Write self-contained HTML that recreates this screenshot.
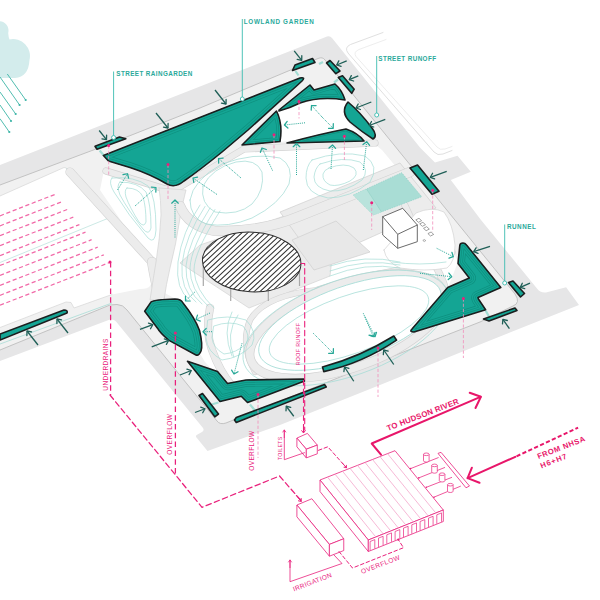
<!DOCTYPE html>
<html><head><meta charset="utf-8"><style>
html,body{margin:0;padding:0;background:#fff;}
svg{display:block;}
text{font-family:"Liberation Sans",sans-serif;}
</style></head><body>
<svg width="600" height="600" viewBox="0 0 600 600">
<path d="M-1,21.1 A9.5,9.5 0 0 1 8.2,33 Q8.5,37.5 9.5,39.4 A17,17 0 0 1 29.5,60 Q28.5,77 15,78 L-1,78 Z" fill="#d3ecec" stroke="none" stroke-width="1" stroke-linejoin="round" stroke-linecap="round" />
<line x1="7.3" y1="74" x2="25.7" y2="100" stroke="#3db5a7" stroke-width="0.9" />
<circle cx="25.7" cy="100" r="1.1" fill="#3db5a7"/>
<line x1="0" y1="77" x2="19.6" y2="105" stroke="#3db5a7" stroke-width="0.9" />
<circle cx="19.6" cy="105" r="1.1" fill="#3db5a7"/>
<line x1="0" y1="92" x2="15.7" y2="114" stroke="#3db5a7" stroke-width="0.9" />
<circle cx="15.7" cy="114" r="1.1" fill="#3db5a7"/>
<line x1="0" y1="105" x2="11" y2="121" stroke="#3db5a7" stroke-width="0.9" />
<circle cx="11" cy="121" r="1.1" fill="#3db5a7"/>
<line x1="0" y1="118.7" x2="9.3" y2="132" stroke="#3db5a7" stroke-width="0.9" />
<circle cx="9.3" cy="132" r="1.1" fill="#3db5a7"/>
<path d="M0,165 L327,36.5 Q330,35.5 332,38 L420,147.5 L435,162.5 L457.5,155.8 L470.8,171.7 L450.8,180 L481,220 L537,288.5 Q540,293 546,292.5 L566.1,287.2 L579,305 L480,344.4 L380,385 L280,425 L207.5,451 L196.5,437.5 Q195,435.5 197.5,434.5 L202,432 Q204.5,430.5 203,428 L116,321.5 Q114,319 110,319.5 L0,361 Z" fill="#e6e6e7" stroke="none" stroke-width="1" stroke-linejoin="round" stroke-linecap="round" />
<path d="M383,32.5 L350.5,44.5 Q344,47.5 348,53 L434,152 Q437.5,156 443,154 L452,150.5" fill="none" stroke="#e0e0e0" stroke-width="1.0" stroke-linejoin="round" stroke-linecap="round" />
<path d="M386,39.5 L359,49.5 Q353,52 356,56.5 L437,147 Q440,150.5 445,149 L452,146.5" fill="none" stroke="#ebebeb" stroke-width="0.9" stroke-linejoin="round" stroke-linecap="round" />
<path d="M0,185 L100,147.5 L200,108 L318,58.5 Q322.6,56.5 325,60 L515,294 Q521,303 513,306 L480,322 L360,369 L226,423 Q220,425 217,421 L127,310 Q123,304.5 117,304.5 L110,305 L0,350 Z" fill="#f1f1f1" stroke="none" stroke-width="1" stroke-linejoin="round" stroke-linecap="round" />
<path d="M0,185 L100,147.5 L200,108 L318,58.5 Q322.6,56.5 325,60 L515,294 Q521,303 513,306 L480,322 L360,369 L226,423 Q220,425 217,421 L127,310 Q123,304.5 117,304.5 L110,305 L0,350" fill="none" stroke="#bdbdbd" stroke-width="0.9" stroke-linejoin="round" stroke-linecap="round" />
<path d="M0,196 L64,167.5 Q67,166 69,168.5 L153,261 Q158,266 156,274 L150,286 Q148,289 140,289 L112,294.5 L74,308 L71,302.5 L66,302 L0,327.5 Z" fill="#ffffff" stroke="none" stroke-width="1" stroke-linejoin="round" stroke-linecap="round" />
<polyline points="0,327.5 66,302 71,302.5 74,308 112,294.5" fill="none" stroke="#d6d6d6" stroke-width="0.7" stroke-linejoin="round" stroke-linecap="round" />
<line x1="0" y1="344" x2="112" y2="303" stroke="#a8dcd5" stroke-width="0.8" />
<polyline points="66,168 110,217.5 0,262.5" fill="none" stroke="#bfe3de" stroke-width="0.8" stroke-linejoin="round" stroke-linecap="round" />
<polyline points="0,196 64,167.5 69,168.5 153,261" fill="none" stroke="#d5d5d5" stroke-width="0.7" stroke-linejoin="round" stroke-linecap="round" />
<line x1="0" y1="215.8" x2="55.0" y2="194.4" stroke="#f16aa8" stroke-width="1.25" stroke-dasharray="4.2 2.6"/>
<line x1="0" y1="225.8" x2="61.1" y2="202.0" stroke="#f16aa8" stroke-width="1.25" stroke-dasharray="4.2 2.6"/>
<line x1="0" y1="235.7" x2="67.2" y2="209.5" stroke="#f16aa8" stroke-width="1.25" stroke-dasharray="4.2 2.6"/>
<line x1="0" y1="245.6" x2="73.3" y2="217.1" stroke="#f16aa8" stroke-width="1.25" stroke-dasharray="4.2 2.6"/>
<line x1="0" y1="255.6" x2="79.4" y2="224.6" stroke="#f16aa8" stroke-width="1.25" stroke-dasharray="4.2 2.6"/>
<line x1="0" y1="265.5" x2="85.5" y2="232.2" stroke="#f16aa8" stroke-width="1.25" stroke-dasharray="4.2 2.6"/>
<line x1="0" y1="275.4" x2="91.6" y2="239.7" stroke="#f16aa8" stroke-width="1.25" stroke-dasharray="4.2 2.6"/>
<line x1="0" y1="285.4" x2="97.69999999999999" y2="247.2" stroke="#f16aa8" stroke-width="1.25" stroke-dasharray="4.2 2.6"/>
<line x1="0" y1="295.3" x2="103.8" y2="254.8" stroke="#f16aa8" stroke-width="1.25" stroke-dasharray="4.2 2.6"/>
<line x1="0" y1="305.2" x2="109.9" y2="262.4" stroke="#f16aa8" stroke-width="1.25" stroke-dasharray="4.2 2.6"/>
<path d="M104,170 L160,186 L176,190 L240,150 L292,146 L372,142 L382,150 L412,186 L440,222 L458,262 L447,290 L415,331 L396,340 L325,371 L302,380 L247,381 L227,385 L205,362 L199,352 L183,303 L163,292 L152,266 L100,190 Z" fill="#fff" stroke="none" stroke-width="1" stroke-linejoin="round" stroke-linecap="round" />
<polygon points="180,263 200,245 290,214 332,258 330,276 249,308" fill="#ececec" stroke="#d2d2d2" stroke-width="0.7" stroke-linejoin="round" />
<polygon points="280,212 400,163 436,208 316,262" fill="#ececec" stroke="#cfcfcf" stroke-width="0.7" stroke-linejoin="round" />
<polygon points="292,240 336,221 370,252 314,270" fill="#e8e8e8" stroke="#cfcfcf" stroke-width="0.7" stroke-linejoin="round" />
<path d="M106,171 L165,189 L178,188 L244,149 L375,143" fill="none" stroke="#d2d2d2" stroke-width="7.2" stroke-linecap="round" stroke-linejoin="round"/>
<path d="M106,171 L165,189 L178,188 L244,149 L375,143" fill="none" stroke="#ececec" stroke-width="6" stroke-linecap="round" stroke-linejoin="round"/>
<path d="M70,172 L152,262" fill="none" stroke="#d2d2d2" stroke-width="9.2" stroke-linecap="round" stroke-linejoin="round"/>
<path d="M70,172 L152,262" fill="none" stroke="#ececec" stroke-width="8" stroke-linecap="round" stroke-linejoin="round"/>
<path d="M152,262 Q156,285 160,300" fill="none" stroke="#d2d2d2" stroke-width="10.2" stroke-linecap="round" stroke-linejoin="round"/>
<path d="M152,262 Q156,285 160,300" fill="none" stroke="#ececec" stroke-width="9" stroke-linecap="round" stroke-linejoin="round"/>
<path d="M159,188 L186,190 Q182,205 180,218 Q176,245 170,268 Q166,285 164,300 L150,300 Q153,280 156,262 Q160,238 161,215 Q161,200 159,188 Z" fill="#ececec" stroke="#d2d2d2" stroke-width="0.7" stroke-linejoin="round" stroke-linecap="round" />
<path d="M180,206 Q188,226 215,231 Q262,232 300,216 L410,172" fill="none" stroke="#d2d2d2" stroke-width="10.2" stroke-linecap="round" stroke-linejoin="round"/>
<path d="M180,206 Q188,226 215,231 Q262,232 300,216 L410,172" fill="none" stroke="#ececec" stroke-width="9" stroke-linecap="round" stroke-linejoin="round"/>
<path d="M210,308 Q205,330 212,350 Q220,372 232,386" fill="none" stroke="#d2d2d2" stroke-width="8.2" stroke-linecap="round" stroke-linejoin="round"/>
<path d="M210,308 Q205,330 212,350 Q220,372 232,386" fill="none" stroke="#ececec" stroke-width="7" stroke-linecap="round" stroke-linejoin="round"/>
<path d="M318,290 Q355,278 400,270 Q430,262 452,252" fill="none" stroke="#d2d2d2" stroke-width="7.2" stroke-linecap="round" stroke-linejoin="round"/>
<path d="M318,290 Q355,278 400,270 Q430,262 452,252" fill="none" stroke="#ececec" stroke-width="6" stroke-linecap="round" stroke-linejoin="round"/>
<path d="M395,185 Q410,215 420,240 Q440,270 446,290" fill="none" stroke="#d2d2d2" stroke-width="7.2" stroke-linecap="round" stroke-linejoin="round"/>
<path d="M395,185 Q410,215 420,240 Q440,270 446,290" fill="none" stroke="#ececec" stroke-width="6" stroke-linecap="round" stroke-linejoin="round"/>
<path d="M255,372 Q240,345 250,320 Q265,295 318,290" fill="none" stroke="#d2d2d2" stroke-width="6.2" stroke-linecap="round" stroke-linejoin="round"/>
<path d="M255,372 Q240,345 250,320 Q265,295 318,290" fill="none" stroke="#ececec" stroke-width="5" stroke-linecap="round" stroke-linejoin="round"/>
<path d="M384,250 L416,213 Q432,206 444,212 Q453,224 455,245 Q455,262 447,268 Q425,272 400,268 Q386,262 384,250 Z" fill="#fff" stroke="#d2d2d2" stroke-width="0.7" stroke-linejoin="round" stroke-linecap="round" />
<path d="M392,262 Q420,266 446,262" fill="none" stroke="#a5dcd6" stroke-width="0.7" stroke-linejoin="round" stroke-linecap="round" />
<path d="M112,178 Q135,176 148,186 Q156,196 156,230 Q155,245 148,238 Q128,215 114,192 Q108,182 112,178 Z" fill="none" stroke="#a5dcd6" stroke-width="0.7" stroke-linejoin="round" stroke-linecap="round" />
<path d="M120,182 Q138,182 146,192 Q151,204 151,228 Q149,236 143,229 Q128,210 120,195 Q116,185 120,182 Z" fill="none" stroke="#a5dcd6" stroke-width="0.7" stroke-linejoin="round" stroke-linecap="round" />
<path d="M127,188 Q139,188 143,197 Q146,207 146,222 Q144,228 139,222 Q130,208 126,197 Q124,190 127,188 Z" fill="none" stroke="#a5dcd6" stroke-width="0.7" stroke-linejoin="round" stroke-linecap="round" />
<path d="M190,200 Q193,180 222,164 Q255,152 280,158 Q294,166 289,184 Q280,204 252,218 Q228,228 206,224 Q190,218 190,200 Z" fill="none" stroke="#a5dcd6" stroke-width="0.75" stroke-linejoin="round" stroke-linecap="round" />
<path d="M203,186 Q212,168 236,162 Q256,158 262,172 Q265,190 252,204 Q238,216 215,212 Q200,204 203,186 Z" fill="none" stroke="#a5dcd6" stroke-width="0.75" stroke-linejoin="round" stroke-linecap="round" />
<path d="M312,160 Q340,150 365,156 Q380,166 370,182 Q350,198 328,198 Q306,194 306,178 Q306,166 312,160 Z" fill="none" stroke="#a5dcd6" stroke-width="0.7" stroke-linejoin="round" stroke-linecap="round" />
<path d="M320,164 Q343,156 360,162 Q370,170 362,180 Q346,192 330,191 Q314,188 314,177 Q315,168 320,164 Z" fill="none" stroke="#a5dcd6" stroke-width="0.7" stroke-linejoin="round" stroke-linecap="round" />
<path d="M329,168 Q345,162 354,168 Q360,175 350,181 Q338,187 330,185 Q322,181 323,174 Q324,170 329,168 Z" fill="none" stroke="#a5dcd6" stroke-width="0.7" stroke-linejoin="round" stroke-linecap="round" />
<ellipse cx="347" cy="326" rx="102" ry="42" transform="rotate(-19.5 347 326)" fill="none" stroke="#d2d2d2" stroke-width="9"/>
<ellipse cx="347" cy="326" rx="102" ry="42" transform="rotate(-19.5 347 326)" fill="none" stroke="#ececec" stroke-width="7.6"/>
<ellipse cx="350" cy="323" rx="96" ry="37" transform="rotate(-19.5 350 323)" fill="#fff" stroke="#a5dcd6" stroke-width="0.8"/>
<ellipse cx="349" cy="325" rx="84" ry="29" transform="rotate(-19.5 349 325)" fill="none" stroke="#a5dcd6" stroke-width="0.7"/>
<ellipse cx="346" cy="328" rx="108" ry="48" transform="rotate(-19.5 346 328)" fill="none" stroke="#a5dcd6" stroke-width="0.7"/>
<path d="M208,320 Q228,314 246,320 Q258,332 252,345 Q240,358 222,360 Q207,352 206,338 Z" fill="none" stroke="#a5dcd6" stroke-width="0.7" stroke-linejoin="round" stroke-linecap="round" />
<path d="M214,326 Q230,320 243,326 Q251,335 246,344 Q236,353 224,354 Q213,348 212,338 Z" fill="none" stroke="#a5dcd6" stroke-width="0.7" stroke-linejoin="round" stroke-linecap="round" />
<path d="M200,205.0 Q182.0,232 178.0,262.0 Q175,290 190.0,300.0" fill="none" stroke="#a5dcd6" stroke-width="0.7" stroke-linejoin="round" stroke-linecap="round" />
<path d="M205,206.5 Q185.0,237 182.0,264.0 Q180,290 196.0,302.0" fill="none" stroke="#a5dcd6" stroke-width="0.7" stroke-linejoin="round" stroke-linecap="round" />
<path d="M210,208.0 Q188.0,242 186.0,266.0 Q185,290 202.0,304.0" fill="none" stroke="#a5dcd6" stroke-width="0.7" stroke-linejoin="round" stroke-linecap="round" />
<path d="M215,209.5 Q191.0,247 190.0,268.0 Q190,290 208.0,306.0" fill="none" stroke="#a5dcd6" stroke-width="0.7" stroke-linejoin="round" stroke-linecap="round" />
<path d="M220,211.0 Q194.0,252 194.0,270.0 Q195,290 214.0,308.0" fill="none" stroke="#a5dcd6" stroke-width="0.7" stroke-linejoin="round" stroke-linecap="round" />
<path d="M232,312.0 Q222.0,332.0 232.0,356.0" fill="none" stroke="#a5dcd6" stroke-width="0.7" stroke-linejoin="round" stroke-linecap="round" />
<path d="M238,315.0 Q225.0,333.8 233.8,357.2" fill="none" stroke="#a5dcd6" stroke-width="0.7" stroke-linejoin="round" stroke-linecap="round" />
<path d="M330,266 Q365,254.0 400,262.0" fill="none" stroke="#a5dcd6" stroke-width="0.7" stroke-linejoin="round" stroke-linecap="round" />
<path d="M330,271 Q365,258.0 400,265.0" fill="none" stroke="#a5dcd6" stroke-width="0.7" stroke-linejoin="round" stroke-linecap="round" />
<path d="M330,276 Q365,262.0 400,268.0" fill="none" stroke="#a5dcd6" stroke-width="0.7" stroke-linejoin="round" stroke-linecap="round" />
<clipPath id="elc"><ellipse cx="251.7" cy="262" rx="49.3" ry="29.8" transform="rotate(3 251.7 262)"/></clipPath>
<line x1="203.3" y1="262" x2="203.3" y2="286" stroke="#a8a8a8" stroke-width="1.2" />
<line x1="230.7" y1="288" x2="230.7" y2="301" stroke="#a8a8a8" stroke-width="1.2" />
<line x1="268.3" y1="289" x2="268.3" y2="301" stroke="#a8a8a8" stroke-width="1.2" />
<line x1="299.5" y1="266" x2="299.5" y2="286" stroke="#a8a8a8" stroke-width="1.2" />
<ellipse cx="251.7" cy="262" rx="49.3" ry="29.8" transform="rotate(3 251.7 262)" fill="#fff"/>
<path d="M146.1,252.0L248.5,156.5M148.8,254.9L251.2,159.4M151.5,257.7L253.9,162.3M154.2,260.6L256.5,165.1M156.9,263.5L259.2,168.0M159.5,266.4L261.9,170.9M162.2,269.3L264.6,173.8M164.9,272.2L267.3,176.7M167.6,275.1L270.0,179.6M170.3,278.0L272.7,182.5M173.0,280.9L275.4,185.4M175.7,283.7L278.1,188.3M178.4,286.6L280.8,191.1M181.1,289.5L283.5,194.0M183.8,292.4L286.2,196.9M186.5,295.3L288.9,199.8M189.2,298.2L291.6,202.7M191.9,301.1L294.3,205.6M194.6,304.0L297.0,208.5M197.3,306.9L299.7,211.4M200.0,309.7L302.3,214.3M202.6,312.6L305.0,217.1M205.3,315.5L307.7,220.0M208.0,318.4L310.4,222.9M210.7,321.3L313.1,225.8M213.4,324.2L315.8,228.7M216.1,327.1L318.5,231.6M218.8,330.0L321.2,234.5M221.5,332.9L323.9,237.4M224.2,335.7L326.6,240.3M226.9,338.6L329.3,243.1M229.6,341.5L332.0,246.0M232.3,344.4L334.7,248.9M235.0,347.3L337.4,251.8M237.7,350.2L340.1,254.7M240.4,353.1L342.8,257.6M243.1,356.0L345.4,260.5M245.8,358.9L348.1,263.4M248.4,361.7L350.8,266.3M251.1,364.6L353.5,269.1M253.8,367.5L356.2,272.0" stroke="#333" stroke-width="1.05" clip-path="url(#elc)" fill="none"/>
<ellipse cx="251.7" cy="262" rx="49.3" ry="29.8" transform="rotate(3 251.7 262)" fill="none" stroke="#2d2d2d" stroke-width="1"/>
<line x1="211.5" y1="404.5" x2="218.5" y2="402.5" stroke="#a3ddd4" stroke-width="2.2" />
<line x1="250" y1="404.5" x2="255" y2="410.5" stroke="#a3ddd4" stroke-width="2.2" />
<line x1="485.6" y1="310.5" x2="489" y2="316.5" stroke="#a3ddd4" stroke-width="2.2" />
<line x1="99.7" y1="150.5" x2="103.8" y2="155.5" stroke="#a3ddd4" stroke-width="2.2" />
<line x1="295.5" y1="71" x2="298.5" y2="75.5" stroke="#a3ddd4" stroke-width="2.2" />
<line x1="338" y1="79.5" x2="334" y2="82.5" stroke="#a3ddd4" stroke-width="2.2" />
<line x1="319" y1="64" x2="323" y2="62" stroke="#a3ddd4" stroke-width="2.2" />
<path d="M276,110 Q300,103 318,100 Q336,97 349,100 Q342,112 350,124 Q358,131 364,140 Q345,128 320,134 Q300,140 280,142 Q284,124 276,110 Z" fill="#fff" stroke="none" stroke-width="1" stroke-linejoin="round" stroke-linecap="round" />
<clipPath id="g1"><path d="M103.4,155.5 L300,78 Q306,77 302,81 L248,130 L222,152 Q200,170 184,181 Q175,188.5 167,184 Q150,174 130,167.5 Q115,163 108.5,161 Z"/></clipPath>
<path d="M103.4,155.5 L300,78 Q306,77 302,81 L248,130 L222,152 Q200,170 184,181 Q175,188.5 167,184 Q150,174 130,167.5 Q115,163 108.5,161 Z" fill="#14a594"/>
<g clip-path="url(#g1)" fill="none" stroke-linejoin="round">
<path d="M103.4,155.5 L300,78 Q306,77 302,81 L248,130 L222,152 Q200,170 184,181 Q175,188.5 167,184 Q150,174 130,167.5 Q115,163 108.5,161 Z" stroke="#0e907f" stroke-width="10.299999999999999"/>
<path d="M103.4,155.5 L300,78 Q306,77 302,81 L248,130 L222,152 Q200,170 184,181 Q175,188.5 167,184 Q150,174 130,167.5 Q115,163 108.5,161 Z" stroke="#14a594" stroke-width="8.9"/>
<path d="M103.4,155.5 L300,78 Q306,77 302,81 L248,130 L222,152 Q200,170 184,181 Q175,188.5 167,184 Q150,174 130,167.5 Q115,163 108.5,161 Z" stroke="#0e907f" stroke-width="5.9"/>
<path d="M103.4,155.5 L300,78 Q306,77 302,81 L248,130 L222,152 Q200,170 184,181 Q175,188.5 167,184 Q150,174 130,167.5 Q115,163 108.5,161 Z" stroke="#14a594" stroke-width="4.5"/>
</g>
<path d="M103.4,155.5 L300,78 Q306,77 302,81 L248,130 L222,152 Q200,170 184,181 Q175,188.5 167,184 Q150,174 130,167.5 Q115,163 108.5,161 Z" fill="none" stroke="#1b1f1f" stroke-width="1.6" stroke-linejoin="round"/>
<path d="M95,146.3 L119.5,137 L125.8,138.8 L97,149.3 Z" fill="#14a594" stroke="#1b1f1f" stroke-width="1.6" stroke-linejoin="round"/>
<path d="M292.5,70.5 L295,65 L312.5,58.5 L315,62.5 Z" fill="#14a594" stroke="#1b1f1f" stroke-width="1.6" stroke-linejoin="round"/>
<path d="M326.5,63 L330,60.5 L340,71 L335.8,73.7 Z" fill="#14a594" stroke="#1b1f1f" stroke-width="1.6" stroke-linejoin="round"/>
<path d="M338.3,77.5 L342.5,75.8 L354.2,89.2 L351.7,93.3 Z" fill="#14a594" stroke="#1b1f1f" stroke-width="1.6" stroke-linejoin="round"/>
<clipPath id="g6"><path d="M279,110 L310,85 L314,90 L335,84 Q342,90 345,100 Q320,96 300,103 Q290,108 279,111 Z"/></clipPath>
<path d="M279,110 L310,85 L314,90 L335,84 Q342,90 345,100 Q320,96 300,103 Q290,108 279,111 Z" fill="#14a594"/>
<g clip-path="url(#g6)" fill="none" stroke-linejoin="round">
<path d="M279,110 L310,85 L314,90 L335,84 Q342,90 345,100 Q320,96 300,103 Q290,108 279,111 Z" stroke="#0e907f" stroke-width="9.1"/>
<path d="M279,110 L310,85 L314,90 L335,84 Q342,90 345,100 Q320,96 300,103 Q290,108 279,111 Z" stroke="#14a594" stroke-width="7.7"/>
<path d="M279,110 L310,85 L314,90 L335,84 Q342,90 345,100 Q320,96 300,103 Q290,108 279,111 Z" stroke="#0e907f" stroke-width="5.1000000000000005"/>
<path d="M279,110 L310,85 L314,90 L335,84 Q342,90 345,100 Q320,96 300,103 Q290,108 279,111 Z" stroke="#14a594" stroke-width="3.7"/>
</g>
<path d="M279,110 L310,85 L314,90 L335,84 Q342,90 345,100 Q320,96 300,103 Q290,108 279,111 Z" fill="none" stroke="#1b1f1f" stroke-width="1.6" stroke-linejoin="round"/>
<clipPath id="g7"><path d="M242,145 L276.5,111 Q283,124 280,141.5 Z"/></clipPath>
<path d="M242,145 L276.5,111 Q283,124 280,141.5 Z" fill="#14a594"/>
<g clip-path="url(#g7)" fill="none" stroke-linejoin="round">
<path d="M242,145 L276.5,111 Q283,124 280,141.5 Z" stroke="#0e907f" stroke-width="9.1"/>
<path d="M242,145 L276.5,111 Q283,124 280,141.5 Z" stroke="#14a594" stroke-width="7.7"/>
<path d="M242,145 L276.5,111 Q283,124 280,141.5 Z" stroke="#0e907f" stroke-width="5.1000000000000005"/>
<path d="M242,145 L276.5,111 Q283,124 280,141.5 Z" stroke="#14a594" stroke-width="3.7"/>
</g>
<path d="M242,145 L276.5,111 Q283,124 280,141.5 Z" fill="none" stroke="#1b1f1f" stroke-width="1.6" stroke-linejoin="round"/>
<clipPath id="g8"><path d="M287,143 Q320,134 346,129 Q358,133 364,141 Z"/></clipPath>
<path d="M287,143 Q320,134 346,129 Q358,133 364,141 Z" fill="#14a594"/>
<g clip-path="url(#g8)" fill="none" stroke-linejoin="round">
<path d="M287,143 Q320,134 346,129 Q358,133 364,141 Z" stroke="#0e907f" stroke-width="4.7"/>
<path d="M287,143 Q320,134 346,129 Q358,133 364,141 Z" stroke="#14a594" stroke-width="3.3"/>
</g>
<path d="M287,143 Q320,134 346,129 Q358,133 364,141 Z" fill="none" stroke="#1b1f1f" stroke-width="1.6" stroke-linejoin="round"/>
<path d="M348,102 Q340,112 350,122 Q362,132 373,139 Q378,136 372,128 Q360,112 348,102 Z" fill="#14a594" stroke="#1b1f1f" stroke-width="1.6" stroke-linejoin="round"/>
<path d="M410,168 L417.5,165 L439,191.3 L432,194.3 Z" fill="#14a594" stroke="#1b1f1f" stroke-width="1.6" stroke-linejoin="round"/>
<clipPath id="g11"><path d="M459.8,245.5 Q460,243 463,243 Q465,243 466.5,245 L500.8,287.4 L478,297.6 L478.4,299 L485.6,309.7 L414,332 Q409,332 412,329 L447.7,287.4 L469.3,278.1 L458,263.5 Z"/></clipPath>
<path d="M459.8,245.5 Q460,243 463,243 Q465,243 466.5,245 L500.8,287.4 L478,297.6 L478.4,299 L485.6,309.7 L414,332 Q409,332 412,329 L447.7,287.4 L469.3,278.1 L458,263.5 Z" fill="#14a594"/>
<g clip-path="url(#g11)" fill="none" stroke-linejoin="round">
<path d="M459.8,245.5 Q460,243 463,243 Q465,243 466.5,245 L500.8,287.4 L478,297.6 L478.4,299 L485.6,309.7 L414,332 Q409,332 412,329 L447.7,287.4 L469.3,278.1 L458,263.5 Z" stroke="#0e907f" stroke-width="13.5"/>
<path d="M459.8,245.5 Q460,243 463,243 Q465,243 466.5,245 L500.8,287.4 L478,297.6 L478.4,299 L485.6,309.7 L414,332 Q409,332 412,329 L447.7,287.4 L469.3,278.1 L458,263.5 Z" stroke="#14a594" stroke-width="12.100000000000001"/>
<path d="M459.8,245.5 Q460,243 463,243 Q465,243 466.5,245 L500.8,287.4 L478,297.6 L478.4,299 L485.6,309.7 L414,332 Q409,332 412,329 L447.7,287.4 L469.3,278.1 L458,263.5 Z" stroke="#0e907f" stroke-width="9.5"/>
<path d="M459.8,245.5 Q460,243 463,243 Q465,243 466.5,245 L500.8,287.4 L478,297.6 L478.4,299 L485.6,309.7 L414,332 Q409,332 412,329 L447.7,287.4 L469.3,278.1 L458,263.5 Z" stroke="#14a594" stroke-width="8.100000000000001"/>
<path d="M459.8,245.5 Q460,243 463,243 Q465,243 466.5,245 L500.8,287.4 L478,297.6 L478.4,299 L485.6,309.7 L414,332 Q409,332 412,329 L447.7,287.4 L469.3,278.1 L458,263.5 Z" stroke="#0e907f" stroke-width="5.5"/>
<path d="M459.8,245.5 Q460,243 463,243 Q465,243 466.5,245 L500.8,287.4 L478,297.6 L478.4,299 L485.6,309.7 L414,332 Q409,332 412,329 L447.7,287.4 L469.3,278.1 L458,263.5 Z" stroke="#14a594" stroke-width="4.1"/>
</g>
<path d="M459.8,245.5 Q460,243 463,243 Q465,243 466.5,245 L500.8,287.4 L478,297.6 L478.4,299 L485.6,309.7 L414,332 Q409,332 412,329 L447.7,287.4 L469.3,278.1 L458,263.5 Z" fill="none" stroke="#1b1f1f" stroke-width="1.6" stroke-linejoin="round"/>
<path d="M508.5,282.5 L513,281 L524.5,293.5 L520.5,297 Z" fill="#14a594" stroke="#1b1f1f" stroke-width="1.6" stroke-linejoin="round"/>
<path d="M483.5,319 L515,308 L517,310.5 L489,321 Z" fill="#14a594" stroke="#1b1f1f" stroke-width="1.6" stroke-linejoin="round"/>
<clipPath id="g14"><path d="M144.7,311.3 L151.1,301.9 Q155,299.5 175,299 Q181,299 183,303 Q195,318 199.5,330.5 Q203,345 201,351 Q199,356 196,355 L169,340.4 Q160,333 157.5,328.2 Z"/></clipPath>
<path d="M144.7,311.3 L151.1,301.9 Q155,299.5 175,299 Q181,299 183,303 Q195,318 199.5,330.5 Q203,345 201,351 Q199,356 196,355 L169,340.4 Q160,333 157.5,328.2 Z" fill="#14a594"/>
<g clip-path="url(#g14)" fill="none" stroke-linejoin="round">
<path d="M144.7,311.3 L151.1,301.9 Q155,299.5 175,299 Q181,299 183,303 Q195,318 199.5,330.5 Q203,345 201,351 Q199,356 196,355 L169,340.4 Q160,333 157.5,328.2 Z" stroke="#0e907f" stroke-width="14.299999999999999"/>
<path d="M144.7,311.3 L151.1,301.9 Q155,299.5 175,299 Q181,299 183,303 Q195,318 199.5,330.5 Q203,345 201,351 Q199,356 196,355 L169,340.4 Q160,333 157.5,328.2 Z" stroke="#14a594" stroke-width="12.9"/>
<path d="M144.7,311.3 L151.1,301.9 Q155,299.5 175,299 Q181,299 183,303 Q195,318 199.5,330.5 Q203,345 201,351 Q199,356 196,355 L169,340.4 Q160,333 157.5,328.2 Z" stroke="#0e907f" stroke-width="9.899999999999999"/>
<path d="M144.7,311.3 L151.1,301.9 Q155,299.5 175,299 Q181,299 183,303 Q195,318 199.5,330.5 Q203,345 201,351 Q199,356 196,355 L169,340.4 Q160,333 157.5,328.2 Z" stroke="#14a594" stroke-width="8.5"/>
<path d="M144.7,311.3 L151.1,301.9 Q155,299.5 175,299 Q181,299 183,303 Q195,318 199.5,330.5 Q203,345 201,351 Q199,356 196,355 L169,340.4 Q160,333 157.5,328.2 Z" stroke="#0e907f" stroke-width="5.5"/>
<path d="M144.7,311.3 L151.1,301.9 Q155,299.5 175,299 Q181,299 183,303 Q195,318 199.5,330.5 Q203,345 201,351 Q199,356 196,355 L169,340.4 Q160,333 157.5,328.2 Z" stroke="#14a594" stroke-width="4.1"/>
</g>
<path d="M144.7,311.3 L151.1,301.9 Q155,299.5 175,299 Q181,299 183,303 Q195,318 199.5,330.5 Q203,345 201,351 Q199,356 196,355 L169,340.4 Q160,333 157.5,328.2 Z" fill="none" stroke="#1b1f1f" stroke-width="1.6" stroke-linejoin="round"/>
<clipPath id="g15"><path d="M187.5,361.25 L217.5,371.5 L227.5,383.5 L246,380 L303.75,379 L304.5,381 L247.5,402.5 L241.25,396.25 L220,401.5 Z"/></clipPath>
<path d="M187.5,361.25 L217.5,371.5 L227.5,383.5 L246,380 L303.75,379 L304.5,381 L247.5,402.5 L241.25,396.25 L220,401.5 Z" fill="#14a594"/>
<g clip-path="url(#g15)" fill="none" stroke-linejoin="round">
<path d="M187.5,361.25 L217.5,371.5 L227.5,383.5 L246,380 L303.75,379 L304.5,381 L247.5,402.5 L241.25,396.25 L220,401.5 Z" stroke="#0e907f" stroke-width="13.5"/>
<path d="M187.5,361.25 L217.5,371.5 L227.5,383.5 L246,380 L303.75,379 L304.5,381 L247.5,402.5 L241.25,396.25 L220,401.5 Z" stroke="#14a594" stroke-width="12.100000000000001"/>
<path d="M187.5,361.25 L217.5,371.5 L227.5,383.5 L246,380 L303.75,379 L304.5,381 L247.5,402.5 L241.25,396.25 L220,401.5 Z" stroke="#0e907f" stroke-width="9.5"/>
<path d="M187.5,361.25 L217.5,371.5 L227.5,383.5 L246,380 L303.75,379 L304.5,381 L247.5,402.5 L241.25,396.25 L220,401.5 Z" stroke="#14a594" stroke-width="8.100000000000001"/>
<path d="M187.5,361.25 L217.5,371.5 L227.5,383.5 L246,380 L303.75,379 L304.5,381 L247.5,402.5 L241.25,396.25 L220,401.5 Z" stroke="#0e907f" stroke-width="5.5"/>
<path d="M187.5,361.25 L217.5,371.5 L227.5,383.5 L246,380 L303.75,379 L304.5,381 L247.5,402.5 L241.25,396.25 L220,401.5 Z" stroke="#14a594" stroke-width="4.1"/>
</g>
<path d="M187.5,361.25 L217.5,371.5 L227.5,383.5 L246,380 L303.75,379 L304.5,381 L247.5,402.5 L241.25,396.25 L220,401.5 Z" fill="none" stroke="#1b1f1f" stroke-width="1.6" stroke-linejoin="round"/>
<path d="M199,395.5 L202.5,393.5 L218.5,414 L214.8,416.8 Z" fill="#14a594" stroke="#1b1f1f" stroke-width="1.6" stroke-linejoin="round"/>
<path d="M234.5,420 L236.25,417.5 L324.5,384.5 L326.25,387 L236.25,422.5 Z" fill="#14a594" stroke="#1b1f1f" stroke-width="1.6" stroke-linejoin="round"/>
<path d="M322.5,367 Q360,357 393.8,336 L396.6,340.2 Q362,363.5 323.8,371.6 Z" fill="#14a594" stroke="#1b1f1f" stroke-width="1.6" stroke-linejoin="round"/>
<path d="M0,334 L64,310 Q68,310 67,313 L0,340 Z" fill="#14a594" stroke="#1b1f1f" stroke-width="1.6" stroke-linejoin="round"/>
<polygon points="353.3,195 401.7,172.7 421.7,196.7 373.3,215" fill="#a9ddd5" stroke="#86cdc2" stroke-width="0.6" stroke-linejoin="round" stroke-dasharray="1.5 1"/>
<polygon points="353.3,195 366.5,189 381.5,212 373.3,215" fill="#b9e3dc" stroke="none" stroke-width="0" stroke-linejoin="round" />
<line x1="366.5" y1="189" x2="381.5" y2="212" stroke="#8fd0c5" stroke-width="0.6" />
<polygon points="382.7,216.7 402.7,208.3 417.3,225 417.3,241.7 397.7,248.3 382.7,235" fill="#fff" stroke="#5a5a5a" stroke-width="0.9" stroke-linejoin="round" />
<polyline points="382.7,216.7 397.7,234.3 417.3,225" fill="none" stroke="#5a5a5a" stroke-width="0.9" stroke-linejoin="round" stroke-linecap="round" />
<line x1="397.7" y1="234.3" x2="397.7" y2="248.3" stroke="#5a5a5a" stroke-width="0.9" />
<polygon points="415.8,219.89999999999998 419.0,218.29999999999998 421.59999999999997,220.7 418.4,222.29999999999998" fill="#fff" stroke="#6f6f6f" stroke-width="0.65" stroke-linejoin="round" />
<polygon points="419.70000000000005,223.89999999999998 422.90000000000003,222.29999999999998 425.5,224.7 422.3,226.29999999999998" fill="#fff" stroke="#6f6f6f" stroke-width="0.65" stroke-linejoin="round" />
<polygon points="423.5,228.29999999999998 426.7,226.7 429.29999999999995,229.1 426.09999999999997,230.7" fill="#fff" stroke="#6f6f6f" stroke-width="0.65" stroke-linejoin="round" />
<polygon points="427.90000000000003,233.6 431.1,232.0 433.7,234.4 430.5,236.0" fill="#fff" stroke="#6f6f6f" stroke-width="0.65" stroke-linejoin="round" />
<polygon points="422.8,240.4 424.4,239.5 425.8,240.6 424.2,241.5" fill="#fff" stroke="#6f6f6f" stroke-width="0.55" stroke-linejoin="round" />
<line x1="99.2" y1="130.5" x2="106.5" y2="139.7" stroke="#1f5f57" stroke-width="1.3" />
<polyline points="106.6,135.1 106.5,139.7 102.0,138.8" fill="none" stroke="#1f5f57" stroke-width="1.3" stroke-linecap="round" stroke-linejoin="round"/>
<line x1="156" y1="113" x2="168" y2="128" stroke="#1f5f57" stroke-width="1.3" />
<polyline points="168.1,123.4 168,128 163.5,127.1" fill="none" stroke="#1f5f57" stroke-width="1.3" stroke-linecap="round" stroke-linejoin="round"/>
<line x1="215" y1="90" x2="226" y2="104" stroke="#1f5f57" stroke-width="1.3" />
<polyline points="226.1,99.4 226,104 221.5,103.1" fill="none" stroke="#1f5f57" stroke-width="1.3" stroke-linecap="round" stroke-linejoin="round"/>
<line x1="294.2" y1="50.8" x2="301.7" y2="60.3" stroke="#1f5f57" stroke-width="1.3" />
<polyline points="301.8,55.7 301.7,60.3 297.2,59.4" fill="none" stroke="#1f5f57" stroke-width="1.3" stroke-linecap="round" stroke-linejoin="round"/>
<line x1="346.7" y1="60.8" x2="336.7" y2="65" stroke="#1f5f57" stroke-width="1.3" />
<polyline points="341.1,66.4 336.7,65 338.8,60.9" fill="none" stroke="#1f5f57" stroke-width="1.3" stroke-linecap="round" stroke-linejoin="round"/>
<line x1="358.3" y1="75.8" x2="349.2" y2="79.7" stroke="#1f5f57" stroke-width="1.3" />
<polyline points="353.6,81.0 349.2,79.7 351.3,75.6" fill="none" stroke="#1f5f57" stroke-width="1.3" stroke-linecap="round" stroke-linejoin="round"/>
<line x1="371.3" y1="102" x2="356" y2="108" stroke="#1f5f57" stroke-width="1.3" />
<polyline points="360.4,109.5 356,108 358.2,104.0" fill="none" stroke="#1f5f57" stroke-width="1.3" stroke-linecap="round" stroke-linejoin="round"/>
<line x1="385.3" y1="119.3" x2="369.3" y2="125.5" stroke="#1f5f57" stroke-width="1.3" />
<polyline points="373.7,127.0 369.3,125.5 371.5,121.5" fill="none" stroke="#1f5f57" stroke-width="1.3" stroke-linecap="round" stroke-linejoin="round"/>
<line x1="446.7" y1="171.3" x2="430.3" y2="177.3" stroke="#1f5f57" stroke-width="1.3" />
<polyline points="434.6,178.9 430.3,177.3 432.6,173.3" fill="none" stroke="#1f5f57" stroke-width="1.3" stroke-linecap="round" stroke-linejoin="round"/>
<line x1="490" y1="246.3" x2="473.7" y2="251.7" stroke="#1f5f57" stroke-width="1.3" />
<polyline points="478.0,253.4 473.7,251.7 476.1,247.8" fill="none" stroke="#1f5f57" stroke-width="1.3" stroke-linecap="round" stroke-linejoin="round"/>
<line x1="530" y1="283.1" x2="520.3" y2="287.4" stroke="#1f5f57" stroke-width="1.3" />
<polyline points="524.7,288.7 520.3,287.4 522.3,283.3" fill="none" stroke="#1f5f57" stroke-width="1.3" stroke-linecap="round" stroke-linejoin="round"/>
<line x1="509.4" y1="328.6" x2="502.9" y2="319.3" stroke="#1f5f57" stroke-width="1.3" />
<polyline points="502.5,323.9 502.9,319.3 507.3,320.5" fill="none" stroke="#1f5f57" stroke-width="1.3" stroke-linecap="round" stroke-linejoin="round"/>
<line x1="393.75" y1="364.5" x2="383.75" y2="350" stroke="#1f5f57" stroke-width="1.3" />
<polyline points="383.3,354.6 383.75,350 388.2,351.2" fill="none" stroke="#1f5f57" stroke-width="1.3" stroke-linecap="round" stroke-linejoin="round"/>
<line x1="353.75" y1="381.25" x2="344.5" y2="367" stroke="#1f5f57" stroke-width="1.3" />
<polyline points="343.9,371.6 344.5,367 348.9,368.3" fill="none" stroke="#1f5f57" stroke-width="1.3" stroke-linecap="round" stroke-linejoin="round"/>
<line x1="38" y1="345" x2="27" y2="331" stroke="#1f5f57" stroke-width="1.3" />
<polyline points="26.9,335.6 27,331 31.5,331.9" fill="none" stroke="#1f5f57" stroke-width="1.3" stroke-linecap="round" stroke-linejoin="round"/>
<line x1="68" y1="333" x2="57" y2="319" stroke="#1f5f57" stroke-width="1.3" />
<polyline points="56.9,323.6 57,319 61.5,319.9" fill="none" stroke="#1f5f57" stroke-width="1.3" stroke-linecap="round" stroke-linejoin="round"/>
<line x1="140" y1="329.3" x2="152.8" y2="324.7" stroke="#1f5f57" stroke-width="1.3" />
<polyline points="148.5,323.1 152.8,324.7 150.5,328.7" fill="none" stroke="#1f5f57" stroke-width="1.3" stroke-linecap="round" stroke-linejoin="round"/>
<line x1="151.7" y1="346.8" x2="168.6" y2="340.4" stroke="#1f5f57" stroke-width="1.3" />
<polyline points="164.3,338.9 168.6,340.4 166.4,344.4" fill="none" stroke="#1f5f57" stroke-width="1.3" stroke-linecap="round" stroke-linejoin="round"/>
<line x1="180" y1="375" x2="191.25" y2="370.5" stroke="#1f5f57" stroke-width="1.3" />
<polyline points="186.9,369.1 191.25,370.5 189.1,374.6" fill="none" stroke="#1f5f57" stroke-width="1.3" stroke-linecap="round" stroke-linejoin="round"/>
<line x1="195" y1="412.5" x2="205" y2="408.75" stroke="#1f5f57" stroke-width="1.3" />
<polyline points="200.7,407.2 205,408.75 202.7,412.8" fill="none" stroke="#1f5f57" stroke-width="1.3" stroke-linecap="round" stroke-linejoin="round"/>
<line x1="293.75" y1="416.25" x2="286.25" y2="406.25" stroke="#1f5f57" stroke-width="1.3" />
<polyline points="286.0,410.8 286.25,406.25 290.7,407.3" fill="none" stroke="#1f5f57" stroke-width="1.3" stroke-linecap="round" stroke-linejoin="round"/>
<line x1="241" y1="178" x2="218.5" y2="158.5" stroke="#26a897" stroke-width="1.0" stroke-dasharray="1 1.1"/>
<polyline points="218.7,163.1 218.5,158.5 223.1,158.1" fill="none" stroke="#26a897" stroke-width="1.25" stroke-linecap="round" stroke-linejoin="round"/>
<line x1="217" y1="194.5" x2="193" y2="178" stroke="#26a897" stroke-width="1.0" stroke-dasharray="1 1.1"/>
<polyline points="193.8,182.5 193,178 197.5,177.1" fill="none" stroke="#26a897" stroke-width="1.25" stroke-linecap="round" stroke-linejoin="round"/>
<line x1="272.5" y1="170.5" x2="262" y2="148" stroke="#26a897" stroke-width="1.0" stroke-dasharray="1 1.1"/>
<polyline points="260.4,152.3 262,148 266.3,149.5" fill="none" stroke="#26a897" stroke-width="1.25" stroke-linecap="round" stroke-linejoin="round"/>
<line x1="296.5" y1="175" x2="296.5" y2="143.5" stroke="#26a897" stroke-width="1.0" stroke-dasharray="1 1.1"/>
<polyline points="293.2,146.7 296.5,143.5 299.8,146.7" fill="none" stroke="#26a897" stroke-width="1.25" stroke-linecap="round" stroke-linejoin="round"/>
<line x1="331" y1="169" x2="332.5" y2="145" stroke="#26a897" stroke-width="1.0" stroke-dasharray="1 1.1"/>
<polyline points="329.0,148.0 332.5,145 335.6,148.4" fill="none" stroke="#26a897" stroke-width="1.25" stroke-linecap="round" stroke-linejoin="round"/>
<line x1="175" y1="237.5" x2="175" y2="200" stroke="#26a897" stroke-width="1.0" stroke-dasharray="1 1.1"/>
<polyline points="171.7,203.2 175,200 178.3,203.2" fill="none" stroke="#26a897" stroke-width="1.25" stroke-linecap="round" stroke-linejoin="round"/>
<line x1="117.5" y1="190" x2="127.5" y2="173.75" stroke="#26a897" stroke-width="1.0" stroke-dasharray="1 1.1"/>
<polyline points="123.0,174.7 127.5,173.75 128.6,178.2" fill="none" stroke="#26a897" stroke-width="1.25" stroke-linecap="round" stroke-linejoin="round"/>
<line x1="135" y1="206" x2="156" y2="187.5" stroke="#26a897" stroke-width="1.0" stroke-dasharray="1 1.1"/>
<polyline points="151.4,187.1 156,187.5 155.8,192.1" fill="none" stroke="#26a897" stroke-width="1.25" stroke-linecap="round" stroke-linejoin="round"/>
<line x1="194.8" y1="292" x2="185.5" y2="300.8" stroke="#26a897" stroke-width="1.0" stroke-dasharray="1 1.1"/>
<polyline points="190.1,301.0 185.5,300.8 185.5,296.2" fill="none" stroke="#26a897" stroke-width="1.25" stroke-linecap="round" stroke-linejoin="round"/>
<line x1="210" y1="313" x2="196" y2="319.4" stroke="#26a897" stroke-width="1.0" stroke-dasharray="1 1.1"/>
<polyline points="200.3,321.1 196,319.4 197.5,315.1" fill="none" stroke="#26a897" stroke-width="1.25" stroke-linecap="round" stroke-linejoin="round"/>
<line x1="212" y1="331.7" x2="203" y2="331.7" stroke="#26a897" stroke-width="1.0" stroke-dasharray="1 1.1"/>
<polyline points="206.2,335.0 203,331.7 206.2,328.4" fill="none" stroke="#26a897" stroke-width="1.25" stroke-linecap="round" stroke-linejoin="round"/>
<line x1="436.7" y1="248.3" x2="453.3" y2="256.7" stroke="#26a897" stroke-width="1.0" stroke-dasharray="1 1.1"/>
<polyline points="451.9,252.3 453.3,256.7 449.0,258.2" fill="none" stroke="#26a897" stroke-width="1.25" stroke-linecap="round" stroke-linejoin="round"/>
<line x1="420" y1="273.3" x2="451.7" y2="276.7" stroke="#26a897" stroke-width="1.0" stroke-dasharray="1 1.1"/>
<polyline points="448.9,273.1 451.7,276.7 448.2,279.6" fill="none" stroke="#26a897" stroke-width="1.25" stroke-linecap="round" stroke-linejoin="round"/>
<line x1="363.3" y1="313.3" x2="373.3" y2="336.7" stroke="#26a897" stroke-width="1.0" stroke-dasharray="1 1.1"/>
<polyline points="375.1,332.5 373.3,336.7 369.0,335.1" fill="none" stroke="#26a897" stroke-width="1.25" stroke-linecap="round" stroke-linejoin="round"/>
<line x1="313.3" y1="333.3" x2="333.3" y2="353.3" stroke="#26a897" stroke-width="1.0" stroke-dasharray="1 1.1"/>
<polyline points="333.4,348.7 333.3,353.3 328.7,353.4" fill="none" stroke="#26a897" stroke-width="1.25" stroke-linecap="round" stroke-linejoin="round"/>
<line x1="365" y1="316.7" x2="375" y2="336.7" stroke="#26a897" stroke-width="1.0" stroke-dasharray="1 1.1"/>
<polyline points="376.5,332.4 375,336.7 370.6,335.3" fill="none" stroke="#26a897" stroke-width="1.25" stroke-linecap="round" stroke-linejoin="round"/>
<line x1="305" y1="122.8" x2="284.4" y2="125" stroke="#26a897" stroke-width="1.0" stroke-dasharray="1 1.1"/>
<polyline points="287.9,128.0 284.4,125 287.2,121.4" fill="none" stroke="#26a897" stroke-width="1.25" stroke-linecap="round" stroke-linejoin="round"/>
<line x1="322" y1="117" x2="311.5" y2="105.5" stroke="#26a897" stroke-width="1.0" stroke-dasharray="1 1.1"/>
<polyline points="311.2,110.1 311.5,105.5 316.1,105.6" fill="none" stroke="#26a897" stroke-width="1.25" stroke-linecap="round" stroke-linejoin="round"/>
<line x1="322" y1="117" x2="333.2" y2="128.3" stroke="#26a897" stroke-width="1.0" stroke-dasharray="1 1.1"/>
<polyline points="333.3,123.7 333.2,128.3 328.6,128.4" fill="none" stroke="#26a897" stroke-width="1.25" stroke-linecap="round" stroke-linejoin="round"/>
<line x1="242" y1="343.3" x2="234" y2="374" stroke="#26a897" stroke-width="1.0" stroke-dasharray="1 1.1"/>
<polyline points="238.0,371.7 234,374 231.6,370.1" fill="none" stroke="#26a897" stroke-width="1.25" stroke-linecap="round" stroke-linejoin="round"/>
<line x1="363.3" y1="170" x2="366.7" y2="141.7" stroke="#26a897" stroke-width="1.0" stroke-dasharray="1 1.1"/>
<polyline points="363.0,144.5 366.7,141.7 369.6,145.3" fill="none" stroke="#26a897" stroke-width="1.25" stroke-linecap="round" stroke-linejoin="round"/>
<text x="243.8" y="23.5" font-size="6.3" fill="#2aa99b" text-anchor="start" letter-spacing="0" font-weight="bold" textLength="70" lengthAdjust="spacing">LOWLAND GARDEN</text>
<line x1="242.3" y1="19" x2="242.3" y2="97" stroke="#3bbcb0" stroke-width="0.9" />
<circle cx="242.3" cy="99" r="2" fill="#fff" stroke="#3bbcb0" stroke-width="0.9"/>
<text x="116.3" y="76" font-size="6.3" fill="#2aa99b" text-anchor="start" letter-spacing="0" font-weight="bold" textLength="76" lengthAdjust="spacing">STREET RAINGARDEN</text>
<line x1="113.6" y1="71.5" x2="113.6" y2="135.5" stroke="#3bbcb0" stroke-width="0.9" />
<circle cx="113.6" cy="137.5" r="2" fill="#fff" stroke="#3bbcb0" stroke-width="0.9"/>
<text x="378.3" y="60.8" font-size="6.3" fill="#2aa99b" text-anchor="start" letter-spacing="0" font-weight="bold" textLength="57.7" lengthAdjust="spacing">STREET RUNOFF</text>
<line x1="376.7" y1="56" x2="376.7" y2="113" stroke="#3bbcb0" stroke-width="0.9" />
<circle cx="376.7" cy="115" r="2" fill="#fff" stroke="#3bbcb0" stroke-width="0.9"/>
<text x="507" y="229.2" font-size="6.3" fill="#2aa99b" text-anchor="start" letter-spacing="0" font-weight="bold" textLength="28.8" lengthAdjust="spacing">RUNNEL</text>
<line x1="504.7" y1="224.5" x2="504.7" y2="281" stroke="#3bbcb0" stroke-width="0.9" />
<circle cx="504.7" cy="283" r="2" fill="#fff" stroke="#3bbcb0" stroke-width="0.9"/>
<line x1="108.7" y1="145.5" x2="108.7" y2="175" stroke="#f28dba" stroke-width="0.8" stroke-dasharray="3.2 2"/>
<circle cx="108.7" cy="145.5" r="1.5" fill="#e9217c"/>
<line x1="168" y1="164.6" x2="168" y2="200" stroke="#f28dba" stroke-width="0.8" stroke-dasharray="3.2 2"/>
<circle cx="168" cy="164.6" r="1.5" fill="#e9217c"/>
<line x1="299" y1="101.6" x2="299" y2="118.5" stroke="#f28dba" stroke-width="0.8" stroke-dasharray="3.2 2"/>
<circle cx="299" cy="101.6" r="1.5" fill="#e9217c"/>
<line x1="274" y1="134.8" x2="274" y2="160" stroke="#f28dba" stroke-width="0.8" stroke-dasharray="3.2 2"/>
<circle cx="274" cy="134.8" r="1.5" fill="#e9217c"/>
<line x1="344.4" y1="136.3" x2="344.4" y2="160" stroke="#f28dba" stroke-width="0.8" stroke-dasharray="3.2 2"/>
<circle cx="344.4" cy="136.3" r="1.5" fill="#e9217c"/>
<line x1="371.7" y1="202.7" x2="371.7" y2="230" stroke="#f28dba" stroke-width="0.8" stroke-dasharray="3.2 2"/>
<circle cx="371.7" cy="202.7" r="1.5" fill="#e9217c"/>
<line x1="432.7" y1="190.2" x2="432.7" y2="232" stroke="#f28dba" stroke-width="0.8" stroke-dasharray="3.2 2"/>
<circle cx="432.7" cy="190.2" r="1.5" fill="#e9217c"/>
<line x1="258" y1="394.5" x2="258" y2="458" stroke="#f28dba" stroke-width="0.8" stroke-dasharray="3.2 2"/>
<circle cx="258" cy="394.5" r="1.5" fill="#e9217c"/>
<line x1="378" y1="348" x2="378" y2="397" stroke="#f28dba" stroke-width="0.8" stroke-dasharray="3.2 2"/>
<circle cx="378" cy="348" r="1.5" fill="#e9217c"/>
<line x1="463.4" y1="298.5" x2="463.4" y2="358" stroke="#f28dba" stroke-width="0.8" stroke-dasharray="3.2 2"/>
<circle cx="463.4" cy="298.5" r="1.5" fill="#e9217c"/>
<line x1="175.4" y1="336" x2="175.4" y2="474.5" stroke="#e9217c" stroke-width="1.25" stroke-dasharray="5.5 3.3"/>
<circle cx="175.4" cy="333" r="1.5" fill="#e9217c"/>
<circle cx="110" cy="262" r="1.5" fill="#e9217c"/>
<line x1="110.6" y1="262" x2="110.6" y2="395" stroke="#e9217c" stroke-width="1.25" stroke-dasharray="5.5 3.3"/>
<polyline points="110,395 202,507.3 279.5,476 300.5,500" fill="none" stroke="#e9217c" stroke-width="1.25" stroke-linejoin="round" stroke-linecap="round" stroke-dasharray="5.5 3.3"/>
<line x1="303.5" y1="380" x2="303.5" y2="432" stroke="#e9217c" stroke-width="1.1" stroke-dasharray="5.5 3.3"/>
<line x1="303.5" y1="425" x2="303.5" y2="433" stroke="#e9217c" stroke-width="1" />
<polyline points="305.3,430.6 303.5,433 301.7,430.6" fill="none" stroke="#e9217c" stroke-width="1" stroke-linecap="round" stroke-linejoin="round"/>
<line x1="296" y1="495" x2="301.3" y2="501.5" stroke="#e9217c" stroke-width="1" />
<polyline points="301.2,498.5 301.3,501.5 298.4,500.8" fill="none" stroke="#e9217c" stroke-width="1" stroke-linecap="round" stroke-linejoin="round"/>
<polyline points="301,263.5 304.7,263.5 304.7,430" fill="none" stroke="#e9217c" stroke-width="1.1" stroke-linejoin="round" stroke-linecap="round" stroke-dasharray="5.5 3.3"/>
<text x="107.6" y="390.7" font-size="6.5" fill="#e9217c" text-anchor="start" letter-spacing="0" font-weight="normal" textLength="52" lengthAdjust="spacing" transform="rotate(-90 107.6 390.7)">UNDERDRAINS</text>
<text x="172.2" y="454.8" font-size="6.5" fill="#e9217c" text-anchor="start" letter-spacing="0" font-weight="normal" textLength="40.8" lengthAdjust="spacing" transform="rotate(-90 172.2 454.8)">OVERFLOW</text>
<text x="254.5" y="470.8" font-size="6.5" fill="#e9217c" text-anchor="start" letter-spacing="0" font-weight="normal" textLength="40" lengthAdjust="spacing" transform="rotate(-90 254.5 470.8)">OVERFLOW</text>
<text x="299.8" y="365.3" font-size="5.3" fill="#e9217c" text-anchor="start" letter-spacing="0" font-weight="normal" textLength="42.3" lengthAdjust="spacing" transform="rotate(-90 299.8 365.3)">ROOF RUNOFF</text>
<text x="281.9" y="460" font-size="5.3" fill="#e9217c" text-anchor="start" letter-spacing="0" font-weight="normal" textLength="23.3" lengthAdjust="spacing" transform="rotate(-90 281.9 460)">TOILETS</text>
<polygon points="320,480 395,450.7 443.3,510 368.3,540" fill="#fff" stroke="#e9217c" stroke-width="0.8" stroke-linejoin="round" />
<polygon points="320,480 368.3,540 368.3,551.5 320,491.5" fill="#fff" stroke="#e9217c" stroke-width="0.8" stroke-linejoin="round" />
<polygon points="368.3,540 443.3,510 443.3,521.5 368.3,551.5" fill="#fff" stroke="#e9217c" stroke-width="0.8" stroke-linejoin="round" />
<line x1="327.5" y1="477.1" x2="375.8" y2="537.0" stroke="#f3a2c8" stroke-width="0.75" />
<line x1="335.0" y1="474.1" x2="383.3" y2="534.0" stroke="#f3a2c8" stroke-width="0.75" />
<line x1="342.5" y1="471.2" x2="390.8" y2="531.0" stroke="#f3a2c8" stroke-width="0.75" />
<line x1="350.0" y1="468.3" x2="398.3" y2="528.0" stroke="#f3a2c8" stroke-width="0.75" />
<line x1="357.5" y1="465.4" x2="405.8" y2="525.0" stroke="#f3a2c8" stroke-width="0.75" />
<line x1="365.0" y1="462.4" x2="413.3" y2="522.0" stroke="#f3a2c8" stroke-width="0.75" />
<line x1="372.5" y1="459.5" x2="420.8" y2="519.0" stroke="#f3a2c8" stroke-width="0.75" />
<line x1="380.0" y1="456.6" x2="428.3" y2="516.0" stroke="#f3a2c8" stroke-width="0.75" />
<line x1="387.5" y1="453.6" x2="435.8" y2="513.0" stroke="#f3a2c8" stroke-width="0.75" />
<polyline points="370.1,550.0 370.1,541.5 374.8,539.6 374.8,548.1" fill="none" stroke="#e9217c" stroke-width="0.7" stroke-linejoin="round" stroke-linecap="round" />
<polyline points="378.5,546.6 378.5,538.1 383.1,536.3 383.1,544.8" fill="none" stroke="#e9217c" stroke-width="0.7" stroke-linejoin="round" stroke-linecap="round" />
<polyline points="386.8,543.3 386.8,534.8 391.5,532.9 391.5,541.4" fill="none" stroke="#e9217c" stroke-width="0.7" stroke-linejoin="round" stroke-linecap="round" />
<polyline points="395.1,540.0 395.1,531.5 399.8,529.6 399.8,538.1" fill="none" stroke="#e9217c" stroke-width="0.7" stroke-linejoin="round" stroke-linecap="round" />
<polyline points="403.5,536.6 403.5,528.1 408.1,526.3 408.1,534.8" fill="none" stroke="#e9217c" stroke-width="0.7" stroke-linejoin="round" stroke-linecap="round" />
<polyline points="411.8,533.3 411.8,524.8 416.5,522.9 416.5,531.4" fill="none" stroke="#e9217c" stroke-width="0.7" stroke-linejoin="round" stroke-linecap="round" />
<polyline points="420.1,530.0 420.1,521.5 424.8,519.6 424.8,528.1" fill="none" stroke="#e9217c" stroke-width="0.7" stroke-linejoin="round" stroke-linecap="round" />
<polyline points="428.5,526.6 428.5,518.1 433.1,516.3 433.1,524.8" fill="none" stroke="#e9217c" stroke-width="0.7" stroke-linejoin="round" stroke-linecap="round" />
<polyline points="436.8,523.3 436.8,514.8 441.5,512.9 441.5,521.4" fill="none" stroke="#e9217c" stroke-width="0.7" stroke-linejoin="round" stroke-linecap="round" />
<polygon points="296.9,438.1 307.4,433.4 317.3,445.1 306.3,449.2" fill="#fff" stroke="#e9217c" stroke-width="0.8" stroke-linejoin="round" />
<polygon points="296.9,438.1 306.3,449.2 306.3,457.9 296.9,446.8" fill="#fff" stroke="#e9217c" stroke-width="0.8" stroke-linejoin="round" />
<polygon points="306.3,449.2 317.3,445.1 317.3,453.8 306.3,457.9" fill="#fff" stroke="#e9217c" stroke-width="0.8" stroke-linejoin="round" />
<polygon points="296.9,505 311.9,498.75 343.75,538.75 329.4,544.4" fill="#fff" stroke="#e9217c" stroke-width="0.8" stroke-linejoin="round" />
<polygon points="296.9,505 329.4,544.4 329.4,556.1999999999999 296.9,516.8" fill="#fff" stroke="#e9217c" stroke-width="0.8" stroke-linejoin="round" />
<polygon points="329.4,544.4 343.75,538.75 343.75,550.55 329.4,556.1999999999999" fill="#fff" stroke="#e9217c" stroke-width="0.8" stroke-linejoin="round" />
<polygon points="438,453.4 441,452.3 469.5,486 466,487.8" fill="#fff" stroke="#e9217c" stroke-width="0.8" stroke-linejoin="round" />
<line x1="410.6" y1="468.6" x2="438.6" y2="457.5" stroke="#e9217c" stroke-width="0.75" />
<circle cx="410.6" cy="468.6" r="0.8" fill="#e9217c"/>
<path d="M423.5,454.3 V460.8 A2.8 1.3 0 0 0 429.1,460.8 V454.3" fill="#fff" stroke="#e9217c" stroke-width="0.7"/>
<ellipse cx="426.3" cy="454.3" rx="2.8" ry="1.3" fill="#fff" stroke="#e9217c" stroke-width="0.7"/>
<line x1="418.8" y1="477.9" x2="445" y2="467.4" stroke="#e9217c" stroke-width="0.75" />
<circle cx="418.8" cy="477.9" r="0.8" fill="#e9217c"/>
<path d="M431.7,465.4 V471.9 A2.8 1.3 0 0 0 437.3,471.9 V465.4" fill="#fff" stroke="#e9217c" stroke-width="0.7"/>
<ellipse cx="434.5" cy="465.4" rx="2.8" ry="1.3" fill="#fff" stroke="#e9217c" stroke-width="0.7"/>
<line x1="426.3" y1="487.3" x2="452" y2="477.3" stroke="#e9217c" stroke-width="0.75" />
<circle cx="426.3" cy="487.3" r="0.8" fill="#e9217c"/>
<path d="M439.3,474.2 V480.7 A2.8 1.3 0 0 0 444.90000000000003,480.7 V474.2" fill="#fff" stroke="#e9217c" stroke-width="0.7"/>
<ellipse cx="442.1" cy="474.2" rx="2.8" ry="1.3" fill="#fff" stroke="#e9217c" stroke-width="0.7"/>
<line x1="433.9" y1="497.2" x2="460.8" y2="486.1" stroke="#e9217c" stroke-width="0.75" />
<circle cx="433.9" cy="497.2" r="0.8" fill="#e9217c"/>
<path d="M447.5,484.7 V491.2 A2.8 1.3 0 0 0 453.1,491.2 V484.7" fill="#fff" stroke="#e9217c" stroke-width="0.7"/>
<ellipse cx="450.3" cy="484.7" rx="2.8" ry="1.3" fill="#fff" stroke="#e9217c" stroke-width="0.7"/>
<polyline points="381,454.7 371.7,443.5 480.5,396.8" fill="none" stroke="#e8166a" stroke-width="2.0" stroke-linejoin="round" stroke-linecap="round" />
<polyline points="469.7,392.8 480.9,396.8 475.5,408" fill="none" stroke="#e8166a" stroke-width="2.0" stroke-linejoin="round" stroke-linecap="round" />
<text x="388" y="430.9" font-size="7.9" fill="#e8166a" text-anchor="start" letter-spacing="0" font-weight="bold" textLength="76.5" lengthAdjust="spacing" transform="rotate(-21 388 430.9)">TO HUDSON RIVER</text>
<polyline points="515.3,456.8 467.6,478.1" fill="none" stroke="#e8166a" stroke-width="2.0" stroke-linejoin="round" stroke-linecap="round" />
<polyline points="471.9,467.7 467.6,478.1 479.5,482.8" fill="none" stroke="#e8166a" stroke-width="2.0" stroke-linejoin="round" stroke-linecap="round" />
<line x1="516.5" y1="456.3" x2="578.1" y2="427.6" stroke="#e8166a" stroke-width="2.0" stroke-dasharray="4.2 2.3"/>
<text x="538.4" y="459" font-size="7.6" fill="#e8166a" text-anchor="start" letter-spacing="0" font-weight="bold" textLength="50.5" lengthAdjust="spacing" transform="rotate(-21 538.4 459)">FROM NHSA</text>
<text x="541.6" y="468.4" font-size="7.6" fill="#e8166a" text-anchor="start" letter-spacing="0" font-weight="bold" textLength="27.5" lengthAdjust="spacing" transform="rotate(-21 541.6 468.4)">H6+H7</text>
<polyline points="339,551.5 352.5,568 403.5,547.7 398.4,539.8" fill="none" stroke="#e9217c" stroke-width="1" stroke-linejoin="round" stroke-linecap="round" stroke-dasharray="3.5 2.5"/>
<circle cx="398.3" cy="539.6" r="1.1" fill="#e9217c"/>
<text x="362" y="574" font-size="6.6" fill="#e9217c" text-anchor="start" letter-spacing="0" font-weight="normal" textLength="41" lengthAdjust="spacing" transform="rotate(-21 362 574)">OVERFLOW</text>
<polyline points="334,555 342,563.5 290,581.7 290,560" fill="none" stroke="#e9217c" stroke-width="0.8" stroke-linejoin="round" stroke-linecap="round" />
<line x1="290" y1="568" x2="290" y2="560" stroke="#e9217c" stroke-width="0.8" />
<polyline points="288.5,562.0 290,560 291.5,562.0" fill="none" stroke="#e9217c" stroke-width="0.8" stroke-linecap="round" stroke-linejoin="round"/>
<text x="294" y="591.5" font-size="6.6" fill="#e9217c" text-anchor="start" letter-spacing="0" font-weight="normal" textLength="41" lengthAdjust="spacing" transform="rotate(-21 294 591.5)">IRRIGATION</text>
<polyline points="304.5,452.7 284.3,459.7 284.3,430" fill="none" stroke="#e9217c" stroke-width="0.8" stroke-linejoin="round" stroke-linecap="round" />
<line x1="284.3" y1="438" x2="284.3" y2="430" stroke="#e9217c" stroke-width="0.8" />
<polyline points="282.8,432.0 284.3,430 285.8,432.0" fill="none" stroke="#e9217c" stroke-width="0.8" stroke-linecap="round" stroke-linejoin="round"/>
<polyline points="318.5,450.3 327.8,446.8 346.5,467.8" fill="none" stroke="#e9217c" stroke-width="1" stroke-linejoin="round" stroke-linecap="round" stroke-dasharray="3.5 2.5"/>
<line x1="342" y1="462.7" x2="346.5" y2="467.8" stroke="#e9217c" stroke-width="0.9" />
<polyline points="346.4,465.3 346.5,467.8 344.0,467.3" fill="none" stroke="#e9217c" stroke-width="0.9" stroke-linecap="round" stroke-linejoin="round"/>
</svg></body></html>
